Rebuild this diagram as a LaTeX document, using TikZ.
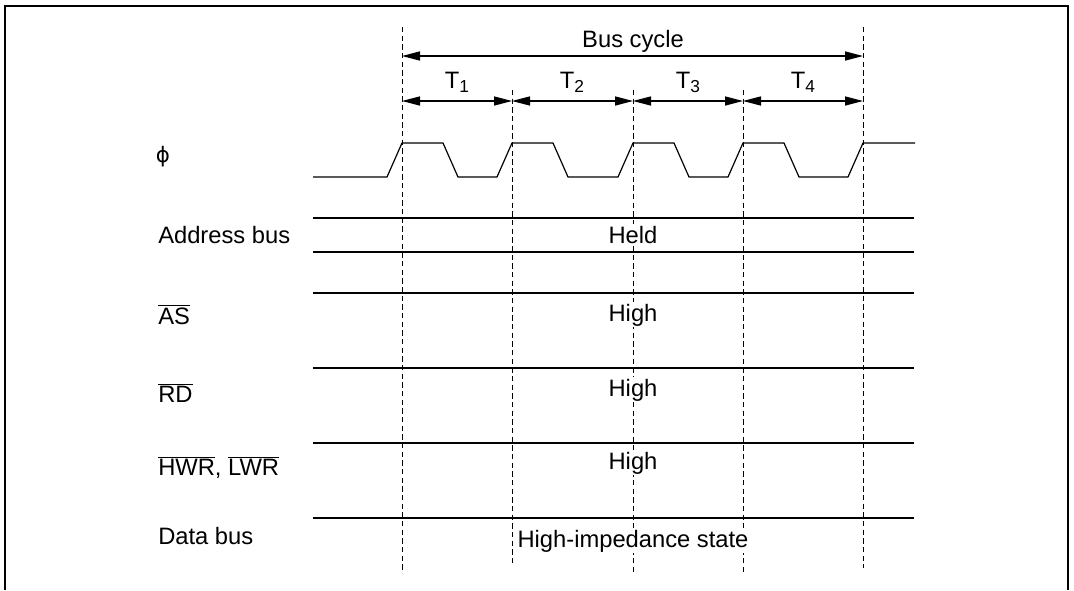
\documentclass[tikz,border=0pt]{standalone}
\usepackage{fontspec}
\setmainfont{Liberation Sans}
\newfontfamily\phifont{DejaVu Sans}
\usetikzlibrary{arrows.meta}
\newcommand{\olbar}[1]{$\overline{\mbox{#1}}$}
\newcommand{\Tsub}[1]{T\raisebox{-3.3pt}{\fontsize{13}{13}\selectfont #1}}
\begin{document}
\begin{tikzpicture}[x=0.75pt,y=-0.75pt,
  lbl/.style={font=\fontsize{17.8}{20}\selectfont, inner sep=0pt, anchor=base west},
  val/.style={font=\fontsize{17.8}{20}\selectfont, inner sep=1pt, fill=white, anchor=base},
  sig/.style={line width=0.9pt, line join=round},
  guide/.style={line width=0.6pt, dash pattern=on 4pt off 2.5pt},
  dimarrow/.style={line width=0.9pt, {Triangle[length=13.5pt,width=6.8pt]}-{Triangle[length=13.5pt,width=6.8pt]}},
  frame/.style={line width=1.5pt}
]
\useasboundingbox (0,0) rectangle (1074,590);
% frame
\draw[frame] (5,590) -- (5,6) -- (1068,6) -- (1068,590);

% guide lines
\coordinate (g0t) at (402,27);  \coordinate (g0b) at (402,573);
\coordinate (g1t) at (512,90);  \coordinate (g1b) at (512,566);
\coordinate (g2t) at (633,90);  \coordinate (g2b) at (633,573);
\coordinate (g3t) at (743,90);  \coordinate (g3b) at (743,575);
\coordinate (g4t) at (863,27);  \coordinate (g4b) at (863,568);
\foreach \i in {0,...,4} \draw[guide] (g\i t) -- (g\i b);

% dimension arrows
\coordinate (b0) at (402,56); \coordinate (b4) at (863,56);
\draw[dimarrow] (b0) -- (b4);
\node[val, fill=none] (bus) at (633,47) {Bus cycle};
\coordinate (t0) at (402,101); \coordinate (t1) at (512,101);
\coordinate (t2) at (633,101); \coordinate (t3) at (743,101);
\coordinate (t4) at (863,101);
\draw[dimarrow] (t0) -- (t1);
\draw[dimarrow] (t1) -- (t2);
\draw[dimarrow] (t2) -- (t3);
\draw[dimarrow] (t3) -- (t4);
\node[val, fill=none] (T1) at (457,88) {\Tsub{1}};
\node[val, fill=none] (T2) at (572,88) {\Tsub{2}};
\node[val, fill=none] (T3) at (688,88) {\Tsub{3}};
\node[val, fill=none] (T4) at (803,88) {\Tsub{4}};

% clock
\draw[sig] (313,177) -- (387,177) -- (402,143) -- (443,143) -- (458,177)
  -- (497,177) -- (512,143) -- (553,143) -- (568,177)
  -- (618,177) -- (633,143) -- (674,143) -- (689,177)
  -- (728,177) -- (743,143) -- (784,143) -- (799,177)
  -- (848,177) -- (863,143) -- (915,143);

% bus lines
\draw[sig] (313,218) -- (914,218);
\draw[sig] (313,252) -- (914,252);
\draw[sig] (313,293) -- (914,293);
\draw[sig] (313,368) -- (914,368);
\draw[sig] (313,443) -- (914,443);
\draw[sig] (313,518) -- (914,518);

% values
\node[val] (held) at (633,243) {Held};
\node[val] (h1) at (633,321) {High};
\node[val] (h2) at (633,396) {High};
\node[val] (h3) at (633,469) {High};
\node[val] (hz) at (633,547) {High-impedance state};

% labels
\node[font=\fontsize{16}{18}\phifont, inner sep=0pt] (phi) at (163,157) {ϕ};
\node[lbl] (addr) at (158,243) {Address bus};
\node[lbl] (as) at (158,324) {\olbar{AS}};
\node[lbl] (rd) at (158,402) {\olbar{RD}};
\node[lbl] (wr) at (158,475) {\olbar{HWR}, \olbar{LWR}};
\node[lbl] (data) at (158,544) {Data bus};
\end{tikzpicture}
\end{document}
